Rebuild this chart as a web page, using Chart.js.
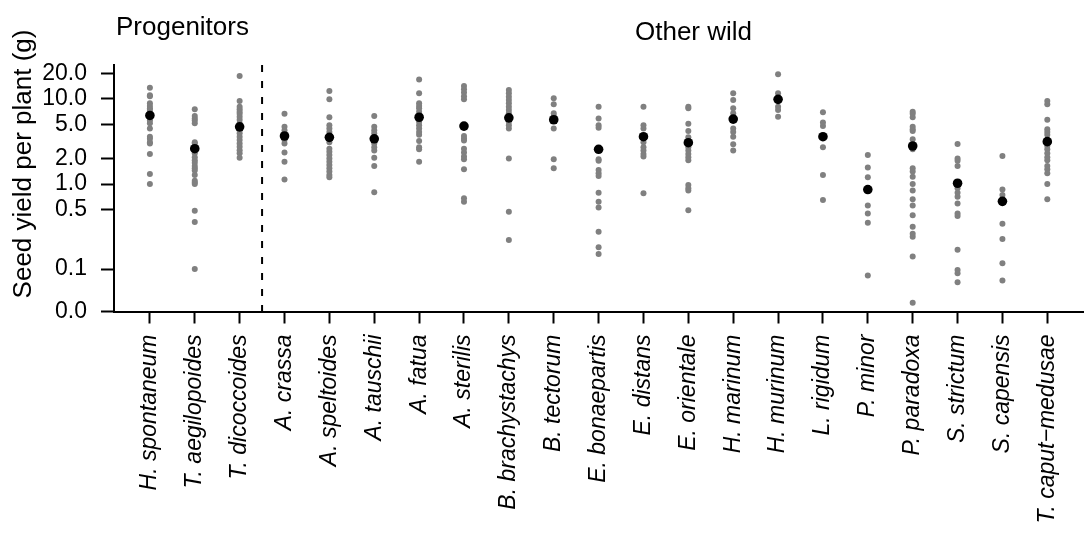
<!DOCTYPE html>
<html><head><meta charset="utf-8">
<script src="https://cdn.jsdelivr.net/npm/chart.js@4/dist/chart.umd.min.js"></script>
<style>html,body{margin:0;padding:0;background:#fff}#wrap{width:1088px;height:534px;position:relative}</style>
</head><body><div id="wrap"><canvas id="c" width="1088" height="534"></canvas></div>
<script>
// ---- data ----
const categories = ['H. spontaneum','T. aegilopoides','T. dicoccoides','A. crassa','A. speltoides','A. tauschii',
  'A. fatua','A. sterilis','B. brachystachys','B. tectorum','E. bonaepartis','E. distans','E. orientale',
  'H. marinum','H. murinum','L. rigidum','P. minor','P. paradoxa','S. strictum','S. capensis','T. caput\u2212medusae'];
const means = [6.4,2.6,4.7,3.67,3.54,3.4,6.1,4.8,6.0,5.7,2.56,3.6,3.06,5.8,9.9,3.6,0.86,2.8,1.02,0.625,3.15];

const hSpontaneum = [13.6,11.1,10.8,8.9,8.3,7.8,7.4,6.9,5.9,5.6,5.2,4.5,3.6,3.4,3.1,3.0,2.25,1.31,1.0];
const tAegilopoides = [7.6,6.3,5.9,5.6,5.2,3.1,3.0,2.3,2.06,1.9,1.78,1.63,1.53,1.44,1.28,1.09,1.04,1.0,0.485,0.357,0.1];
const tDicoccoides = [18.7,9.5,8.1,7.6,7.1,6.7,6.2,5.7,5.2,4.7,4.3,3.95,3.6,3.3,3.0,2.75,2.5,2.3,2.04];
const aCrassa = [6.7,4.7,4.3,3.95,3.3,3.0,2.34,1.83,1.13];
const aSpeltoides = [12.4,9.9,6.1,4.9,4.5,4.1,3.1,2.6,2.4,2.2,2.0,1.83,1.67,1.53,1.4,1.28,1.2];
const aTauschii = [6.3,4.7,4.3,3.95,3.0,2.7,2.47,2.04,1.63,0.8];
const aFatua = [17.0,11.7,8.9,8.3,7.8,7.1,5.4,4.9,4.5,4.1,3.8,3.2,2.7,2.56,1.83];
const aSterilis = [14.2,13.0,11.9,10.8,9.9,3.67,3.44,3.24,2.6,2.34,2.1,1.95,1.49,0.68,0.62];
const bBrachystachys = [12.8,11.7,10.6,9.7,8.9,8.1,7.4,6.8,5.4,4.9,4.5,1.99,0.47,0.22];
const bTectorum = [10.2,8.7,6.8,6.3,4.5,1.95,1.53];
const eBonaepartis = [8.1,5.9,4.9,4.6,1.95,1.88,1.46,1.34,1.24,0.79,0.62,0.53,0.275,0.18,0.15];
const eDistans = [8.1,4.9,4.5,3.1,2.7,2.47,2.25,2.1,0.78];
const eOrientale = [8.1,7.8,5.1,4.2,3.54,2.7,2.47,2.25,2.06,1.9,0.97,0.89,0.84,0.49];
const hMarinum = [11.7,9.7,7.8,6.8,4.5,4.1,3.6,2.93,2.47];
const hMurinum = [19.5,11.7,8.1,7.4,6.2];
const lRigidum = [7.0,5.3,4.8,2.7,1.28,0.65];
const pMinor = [2.2,1.56,1.2,0.56,0.45,0.35,0.084];
const pParadoxa = [7.1,6.7,6.1,4.7,4.4,4.2,3.35,2.56,1.53,1.4,1.22,1.0,0.84,0.66,0.56,0.43,0.315,0.26,0.24,0.14,0.04];
const sStrictum = [2.96,2.0,1.88,1.63,0.89,0.79,0.71,0.59,0.45,0.42,0.168,0.097,0.089,0.07];
const sCapensis = [2.13,0.86,0.74,0.66,0.34,0.225,0.117,0.073];
const tCaputMedusae = [9.5,8.7,5.7,4.4,4.1,3.8,2.8,2.56,2.3,2.06,1.9,1.63,1.49,1.34,1.0,0.66];

const samples = [hSpontaneum,tAegilopoides,tDicoccoides,aCrassa,aSpeltoides,aTauschii,aFatua,aSterilis,
  bBrachystachys,bTectorum,eBonaepartis,eDistans,eOrientale,hMarinum,hMurinum,lRigidum,pMinor,pParadoxa,
  sStrictum,sCapensis,tCaputMedusae];

const yTicks = [Math.pow(10,-1.5),0.1,0.5,1,2,5,10,20];
const yMin = Math.pow(10,-1.5), yMax = Math.pow(10,1.4);
const groupTitles = ['Progenitors','Other wild'];
const yTitle = 'Seed yield per plant (g)';
const nProgenitors = 3;

// ---- build ----
const grayPts = [];
samples.forEach((arr,i)=>arr.forEach(v=>grayPts.push({x:i,y:v})));
const meanPts = means.map((v,i)=>({x:i,y:v}));

const FONT = "'Liberation Sans', Arial, sans-serif";

const overlay = {
  id:'overlay',
  beforeDatasetsDraw(chart){
    const {ctx, chartArea, scales:{x}} = chart;
    const px = x.getPixelForValue(nProgenitors - 0.5);
    ctx.save();
    ctx.strokeStyle = '#000'; ctx.lineWidth = 2; ctx.setLineDash([7,9]);
    ctx.beginPath(); ctx.moveTo(px, chartArea.top); ctx.lineTo(px, chartArea.bottom); ctx.stroke();
    ctx.restore();
  },
  afterDraw(chart){
    const {ctx} = chart;
    ctx.save();
    ctx.fillStyle = '#000'; ctx.font = '26px ' + FONT; ctx.textAlign='left'; ctx.textBaseline='alphabetic';
    ctx.fillText(groupTitles[0], 116, 35);
    ctx.fillText(groupTitles[1], 635, 40);
    // y-axis title
    ctx.translate(24, 164); ctx.rotate(-Math.PI/2);
    ctx.textAlign='center'; ctx.textBaseline='middle';
    ctx.fillText(yTitle, 0, 0);
    ctx.restore();
  }
};

new Chart(document.getElementById('c'), {
  type:'scatter',
  data:{datasets:[
    {data:meanPts, backgroundColor:'#000', borderWidth:0, pointRadius:4.8, order:0},
    {data:grayPts, backgroundColor:'#808080', borderWidth:0, pointRadius:3.0, order:1}
  ]},
  options:{
    responsive:false, animation:false, devicePixelRatio:1,
    layout:{padding:{top:65,left:0,right:0,bottom:0}},
    plugins:{legend:{display:false}, tooltip:{enabled:false}},
    scales:{
      x:{type:'linear', min:-0.8, max:20.8,
        afterBuildTicks:s=>{s.ticks = categories.map((_,i)=>({value:i}));},
        afterFit:s=>{s.height = 534 - 311.5;},
        ticks:{autoSkip:false, maxRotation:90, minRotation:90, padding:11, color:'#000',
          font:{family:FONT, size:23, style:'italic'}, callback:v=>categories[v]},
        grid:{display:true, drawOnChartArea:false, drawTicks:true, tickLength:12, tickWidth:2, tickColor:'#000'},
        border:{display:true, color:'#000', width:2}
      },
      y:{type:'logarithmic', min:yMin, max:yMax,
        afterBuildTicks:s=>{s.ticks = yTicks.map(v=>({value:v}));},
        afterFit:s=>{s.width = 114;},
        ticks:{padding:14, color:'#000', font:{family:FONT, size:23}, callback:v=>Number(v).toFixed(1)},
        grid:{display:true, drawOnChartArea:false, drawTicks:true, tickLength:13, tickWidth:2, tickColor:'#000'},
        border:{display:true, color:'#000', width:2},
        title:{display:false}
      }
    }
  },
  plugins:[overlay]
});
</script></body></html>
